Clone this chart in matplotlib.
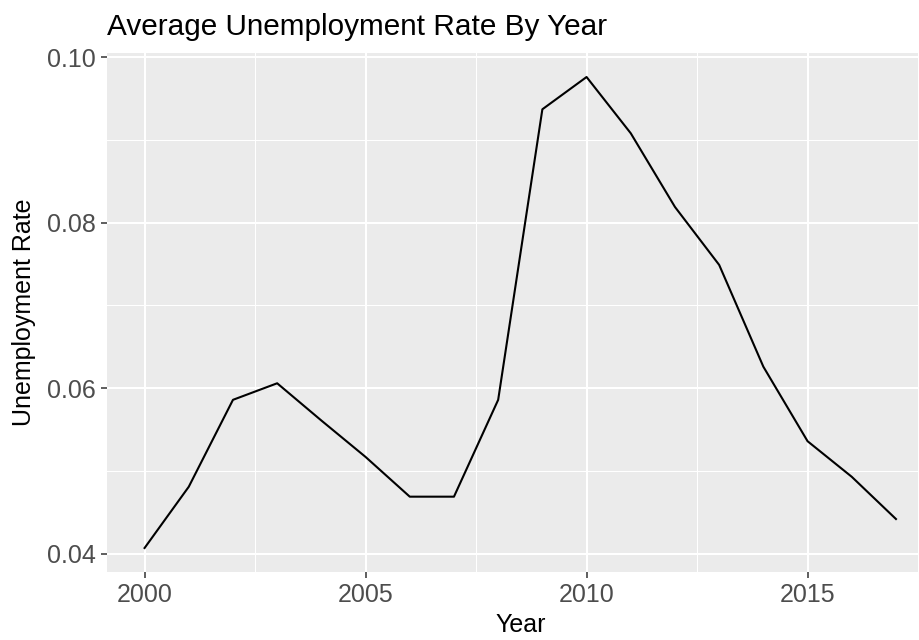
import matplotlib.pyplot as plt
from matplotlib.ticker import MultipleLocator

# data
years = list(range(2000, 2018))
unemployment_rate = [0.0407, 0.0481, 0.0586, 0.0606, 0.0561, 0.0517, 0.0469, 0.0469,
                     0.0586, 0.0937, 0.0976, 0.0908, 0.0819, 0.0749, 0.0626, 0.0536,
                     0.0493, 0.0442]
x_ticks = [2000, 2005, 2010, 2015]
y_ticks = [0.04, 0.06, 0.08, 0.10]
y_tick_labels = ['0.04', '0.06', '0.08', '0.10']

plt.rcParams['font.family'] = ['Liberation Sans', 'DejaVu Sans']

W, H = 919, 640
fig = plt.figure(figsize=(W / 100, H / 100), dpi=100)

# panel in pixels: left 107, top 53, bottom 572; it runs past the right edge
left, top, bottom = 107, 53, 572
width = 18.7 * 44.2
ax = fig.add_axes([left / W, 1 - bottom / H, width / W, (bottom - top) / H])

ax.set_facecolor('#EBEBEB')
for s in ax.spines.values():
    s.set_visible(False)

ax.plot(years, unemployment_rate, color='black', lw=1.5, zorder=3)

ax.set_xlim(1999.15, 2017.85)
ax.set_ylim(0.0378, 0.1005)
ax.set_xticks(x_ticks)
ax.set_yticks(y_ticks)
ax.set_yticklabels(y_tick_labels)
ax.xaxis.set_minor_locator(MultipleLocator(2.5))
ax.yaxis.set_minor_locator(MultipleLocator(0.01))

ax.grid(which='major', color='white', lw=1.5, zorder=1)
ax.grid(which='minor', color='white', lw=0.75, zorder=1)
ax.set_axisbelow(True)

ax.tick_params(which='major', length=4, width=1.1, color='#333333',
               labelsize=18, labelcolor='#4D4D4D', pad=4)
ax.tick_params(which='minor', length=0)

ax.set_xlabel('Year', fontsize=18, color='black', labelpad=4)
ax.set_ylabel('Unemployment Rate', fontsize=18, color='black', labelpad=8)

fig.text(left / W, 1 - 27 / H, 'Average Unemployment Rate By Year',
         fontsize=21.4, color='black', ha='left', va='center')

fig.savefig('out.png', dpi=100)
